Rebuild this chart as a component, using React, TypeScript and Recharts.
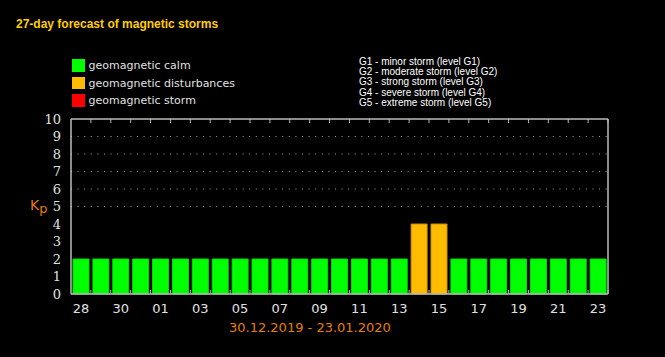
import React from 'react';
import { BarChart, Bar, XAxis, YAxis, Cell, ReferenceLine } from 'recharts';

// 27 дней прогноза: 28.12 – 23.01
const days = ['28', '29', '30', '31', '01', '02', '03', '04', '05', '06', '07', '08', '09', '10', '11', '12', '13', '14', '15', '16', '17', '18', '19', '20', '21', '22', '23'];
const kpValues = [2, 2, 2, 2, 2, 2, 2, 2, 2, 2, 2, 2, 2, 2, 2, 2, 2, 4, 4, 2, 2, 2, 2, 2, 2, 2, 2];
const kpTicks = [0, 1, 2, 3, 4, 5, 6, 7, 8, 9, 10];
const gridLevels = [5, 6, 7, 8, 9];
const stormLevels: { [key: number]: string } = { 5: 'G1', 6: 'G2', 7: 'G3', 8: 'G4', 9: 'G5' };

const legendItems = [
  { label: 'geomagnetic calm', color: '#00ff00' },
  { label: 'geomagnetic disturbances', color: '#ffbb00' },
  { label: 'geomagnetic storm', color: '#ff0000' }
];
const stormNotes = [
  'G1 - minor storm (level G1)',
  'G2 - moderate storm (level G2)',
  'G3 - strong storm (level G3)',
  'G4 - severe storm (level G4)',
  'G5 - extreme storm (level G5)'
];

const W = 665;
const H = 357;
// plot area: x 71..608, y 119..294
const MARGIN = { top: 118, right: 56, bottom: 62, left: 70 };
const BAND = (608 - 71) / days.length;
const AXIS = '#bcbcbc';
const TEXT = '#e0e0e0';
const ORANGE = '#e67e00';

const data = days.map((day, i) => ({ day, kp: kpValues[i] }));

const barColor = (v: number) => (v >= 5 ? '#ff0000' : v >= 4 ? '#ffbb00' : '#00ff00');
const barEdge = (v: number) => (v >= 5 ? '#cc0000' : v >= 4 ? '#c89000' : '#00e000');

const BottomTick = ({ x, y, payload, index }: any) => (
  <g>
    <line x1={x + BAND / 2} x2={x + BAND / 2} y1={y} y2={y - 4} stroke={AXIS} />
    {index % 2 === 0 && (
      <text x={x} y={y + 19} textAnchor="middle" fill={TEXT} fontSize={13} fontFamily="DejaVu Sans">
        {payload.value}
      </text>
    )}
  </g>
);

const TopTick = ({ x, y }: any) => (
  <line x1={x + BAND / 2} x2={x + BAND / 2} y1={y} y2={y + 4} stroke={AXIS} />
);

const RightTick = ({ x, y, payload }: any) => (
  <g>
    <line x1={x} x2={x - 3} y1={y} y2={y} stroke={AXIS} />
    {stormLevels[payload.value] && (
      <text x={x + 5} y={y + 4} fill={TEXT} fontSize={11} fontFamily="DejaVu Sans Condensed, DejaVu Sans">
        {stormLevels[payload.value]}
      </text>
    )}
  </g>
);

const App: React.FC = () => {
  return (
    <div style={{ position: 'absolute', left: 0, top: 0, width: W, height: H, background: '#000', overflow: 'hidden' }}>
      <div style={{ position: 'absolute', left: 16, top: 17, color: '#ffcc00', fontFamily: 'Liberation Sans', fontWeight: 'bold', fontSize: 12 }}>
        27-day forecast of magnetic storms
      </div>

      {legendItems.map((item, i) => (
        <div key={item.label} style={{ position: 'absolute', left: 72, top: 59 + i * 17.5, display: 'flex', alignItems: 'center' }}>
          <div style={{ width: 12.5, height: 12.5, background: item.color }} />
          <span style={{ marginLeft: 4, color: TEXT, fontFamily: 'DejaVu Sans', fontSize: 11, lineHeight: '13px' }}>{item.label}</span>
        </div>
      ))}

      <div style={{ position: 'absolute', left: 359, top: 57, color: '#fff', fontFamily: 'Liberation Sans', fontSize: 10, lineHeight: '10.2px' }}>
        {stormNotes.map((t) => (
          <div key={t}>{t}</div>
        ))}
      </div>

      <div style={{ position: 'absolute', left: 30, top: 197, color: ORANGE, fontFamily: 'DejaVu Sans', fontSize: 14 }}>
        K<span style={{ fontSize: 13, position: 'relative', top: 3 }}>p</span>
      </div>

      <div style={{ position: 'absolute', left: 229, top: 320, color: ORANGE, fontFamily: 'DejaVu Sans', fontSize: 13 }}>
        30.12.2019 - 23.01.2020
      </div>

      <div style={{ position: 'absolute', left: 0, top: 0 }}>
        <BarChart width={W} height={H} data={data} margin={MARGIN}>
          <XAxis dataKey="day" height={1} interval={0} tickSize={0} tickMargin={0} tickLine={false} axisLine={{ stroke: AXIS, strokeWidth: 1.5 }} tick={<BottomTick />} />
          <XAxis xAxisId="top" dataKey="day" orientation="top" height={1} interval={0} tickSize={0} tickMargin={0} tickLine={false} axisLine={{ stroke: AXIS, strokeWidth: 1.5 }} tick={<TopTick />} />
          <YAxis domain={[0, 10]} ticks={kpTicks} interval={0} width={1} tickLine={false} tickMargin={4} axisLine={{ stroke: AXIS, strokeWidth: 1.5 }} tick={{ fill: TEXT, fontSize: 13, fontFamily: 'DejaVu Serif' }} />
          <YAxis yAxisId="right" orientation="right" domain={[0, 10]} ticks={kpTicks} interval={0} width={1} tickSize={0} tickMargin={0} tickLine={false} axisLine={{ stroke: AXIS, strokeWidth: 1.5 }} tick={<RightTick />} />
          {gridLevels.map((lv) => (
            <ReferenceLine key={lv} y={lv} stroke="#a0a0a0" strokeDasharray="1 5.6" />
          ))}
          <Bar dataKey="kp" barSize={16} isAnimationActive={false}>
            {data.map((d) => (
              <Cell key={d.day} fill={barColor(d.kp)} stroke={barEdge(d.kp)} strokeWidth={1} />
            ))}
          </Bar>
        </BarChart>
      </div>
    </div>
  );
};

export default App;
